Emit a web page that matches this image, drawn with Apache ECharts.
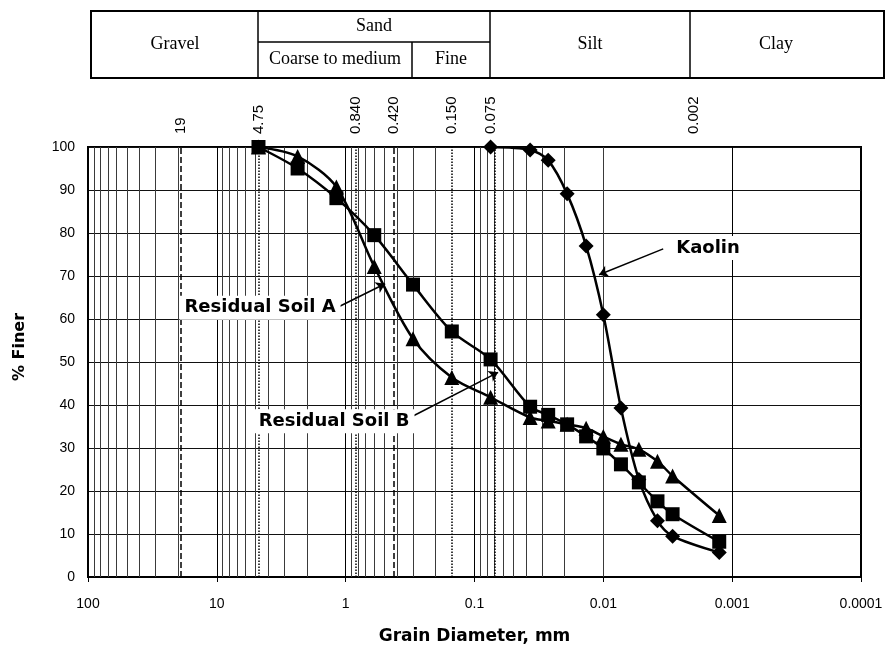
<!DOCTYPE html>
<html><head><meta charset="utf-8">
<script src="https://cdn.jsdelivr.net/npm/echarts@6/dist/echarts.min.js"></script>
<style>html,body{margin:0;padding:0;background:#fff}#c{width:889px;height:650px}</style>
</head><body><div id="c"></div>
<script>
// ---- data ----
const sieveSizes = [4.75, 2.36, 1.18, 0.60, 0.30, 0.15, 0.075];
const hydroSizes = [0.0370, 0.0268, 0.0191, 0.0136, 0.0100, 0.0073, 0.0053, 0.0038, 0.0029, 0.00126];
const soilB_sieve = [100, 95.0, 88.1, 79.5, 68.0, 57.1, 50.6];
const soilB_hydro = [39.6, 37.7, 35.5, 32.7, 29.9, 26.2, 22.0, 17.6, 14.6, 8.2];
const soilA_sieve = [100, 97.8, 90.7, 72.2, 55.4, 46.4, 41.8];
const soilA_hydro = [37.1, 36.3, 35.5, 34.6, 32.7, 30.9, 29.7, 26.9, 23.5, 14.3];
const kaolinSizes = [0.075, 0.0370, 0.0268, 0.0191, 0.0136, 0.0100, 0.0073, 0.0053, 0.0038, 0.0029, 0.00126];
const kaolinFiner = [100, 99.3, 96.9, 89.1, 77.0, 61.0, 39.3, 22.7, 13.1, 9.5, 5.7];
const topSizes = [19, 4.75, 0.84, 0.42, 0.15, 0.075, 0.002];
const topLabels = ['19', '4.75', '0.840', '0.420', '0.150', '0.075', '0.002'];
const topLineTypes = ['dashed', 'dotted', 'dotted', 'dashed', 'dotted', 'dotted', 'dashed'];
const yTicks = [0, 10, 20, 30, 40, 50, 60, 70, 80, 90, 100];
const annotations = [
  {name: 'Kaolin', text: [0.00154, 76.5], from: [0.00343, 76.3], to: [0.0108, 70.3]},
  {name: 'Residual Soil A', text: [4.62, 62.6], from: [1.25, 62.2], to: [0.494, 68.2]},
  {name: 'Residual Soil B', text: [1.23, 36.2], from: [0.316, 37.1], to: [0.0656, 47.6]}
];
const headerCells = [
  {text: 'Gravel', x: 175, y: 44},
  {text: 'Sand', x: 374, y: 26},
  {text: 'Coarse to medium', x: 335, y: 59},
  {text: 'Fine', x: 451, y: 59},
  {text: 'Silt', x: 590, y: 44},
  {text: 'Clay', x: 776, y: 44}
];

// minor gridlines (2..9 per decade)
const minorVals = [];
for (let e = -4; e <= 1; e++) for (let k = 2; k <= 9; k++) minorVals.push(+(k * Math.pow(10, e)).toPrecision(3));

const pairs = (xs, ys) => xs.map((x, i) => [x, ys[i]]);
const SANS = 'Liberation Sans, Arial, sans-serif';
const BOLD = 'DejaVu Sans, sans-serif';

const chart = echarts.init(document.getElementById('c'));
const lineStyle = {color: '#000', width: 2.5};
const option = {
  animation: false,
  backgroundColor: '#fff',
  grid: {left: 88, right: 28, top: 147, bottom: 72, show: true, borderColor: '#000', borderWidth: 2, backgroundColor: 'transparent'},
  xAxis: {
    type: 'log', logBase: 10, inverse: true, min: 0.0001, max: 100,
    name: 'Grain Diameter, mm', nameLocation: 'middle', nameGap: 51,
    nameTextStyle: {fontFamily: BOLD, fontWeight: 'bold', fontSize: 17, color: '#000'},
    axisLine: {show: true, lineStyle: {color: '#000', width: 2}},
    axisTick: {show: true, length: 5, lineStyle: {color: '#000', width: 1}},
    axisLabel: {fontFamily: SANS, fontSize: 14, color: '#000', margin: 20,
      formatter: v => { const e = Math.round(Math.log10(v)); return e >= 0 ? String(Math.pow(10, e)) : '0.' + '0'.repeat(-e - 1) + '1'; }},
    splitLine: {show: true, lineStyle: {color: '#000', width: 1}},
    minorSplitLine: {show: false}
  },
  yAxis: {
    type: 'value', min: 0, max: 100, interval: 10,
    axisLine: {show: true, lineStyle: {color: '#000', width: 2}},
    axisTick: {show: false},
    axisLabel: {fontFamily: SANS, fontSize: 14, color: '#000', margin: 13,
      formatter: v => yTicks.includes(v) ? String(v) : ''},
    splitLine: {show: true, lineStyle: {color: '#111', width: 1}}
  },
  series: [
    {
      type: 'line', data: [], silent: true, z: 1,
      markLine: {
        z: 1, silent: true, symbol: 'none', animation: false, label: {show: false},
        data: minorVals.map(v => ({xAxis: v, lineStyle: {type: 'solid', color: '#3a3a3a', width: 1}}))
          .concat(topSizes.map((v, i) => ({xAxis: v, lineStyle: {type: topLineTypes[i], color: '#000', width: 1.5}})))
      }
    },
    {
      name: 'Residual Soil B', type: 'line', z: 3, smooth: 0.3,
      data: pairs(sieveSizes.concat(hydroSizes), soilB_sieve.concat(soilB_hydro)),
      symbol: 'rect', symbolSize: 14, showAllSymbol: true,
      lineStyle, itemStyle: {color: '#000'}
    },
    {
      name: 'Residual Soil A', type: 'line', z: 3, smooth: 0.3,
      data: pairs(sieveSizes.concat(hydroSizes), soilA_sieve.concat(soilA_hydro)),
      symbol: 'triangle', symbolSize: 15, showAllSymbol: true,
      lineStyle, itemStyle: {color: '#000'}
    },
    {
      name: 'Kaolin', type: 'line', z: 3, smooth: 0.3,
      data: pairs(kaolinSizes, kaolinFiner),
      symbol: 'diamond', symbolSize: 15, showAllSymbol: true,
      lineStyle, itemStyle: {color: '#000'},
      markLine: {
        z: 6, silent: true, symbol: ['none', 'arrow'], symbolSize: 9, animation: false, label: {show: false},
        lineStyle: {type: 'solid', color: '#000', width: 1.5},
        data: annotations.map(a => [{coord: a.from}, {coord: a.to}])
      },
      markPoint: {
        z: 7, silent: true, symbol: 'rect', symbolSize: 1, itemStyle: {color: 'rgba(0,0,0,0)'},
        label: {show: true, position: 'inside', formatter: '{b}', fontFamily: BOLD, fontWeight: 'bold', fontSize: 18, color: '#000', backgroundColor: '#fff', padding: [3, 5]},
        data: annotations.map(a => ({name: a.name, coord: a.text}))
      }
    }
  ]
};
chart.setOption(option);

const px = v => chart.convertToPixel({xAxisIndex: 0}, v);
const graphics = [];
topSizes.forEach((v, i) => {
  graphics.push({type: 'text', x: px(v), y: 134, rotation: Math.PI / 2, silent: true,
    style: {text: topLabels[i], font: '15px ' + SANS, fill: '#000', align: 'left', verticalAlign: 'middle'}});
});
// header table
graphics.push({type: 'rect', shape: {x: 91, y: 11, width: 793, height: 67}, style: {fill: 'none', stroke: '#000', lineWidth: 2}});
[[258, 11, 258, 78], [490, 11, 490, 78], [690, 11, 690, 78], [258, 42, 490, 42], [412, 42, 412, 78]].forEach(l => {
  graphics.push({type: 'line', shape: {x1: l[0], y1: l[1], x2: l[2], y2: l[3]}, style: {stroke: '#000', lineWidth: 1.5}});
});
headerCells.forEach(c => {
  graphics.push({type: 'text', x: c.x, y: c.y, silent: true,
    style: {text: c.text, font: '18px Liberation Serif, Times New Roman, serif', fill: '#000', align: 'center', verticalAlign: 'middle'}});
});
graphics.push({type: 'text', x: 20, y: 347, rotation: Math.PI / 2, silent: true,
  style: {text: '% Finer', font: 'bold 16px ' + BOLD, fill: '#000', align: 'center', verticalAlign: 'middle'}});
chart.setOption({graphic: graphics});
</script></body></html>
